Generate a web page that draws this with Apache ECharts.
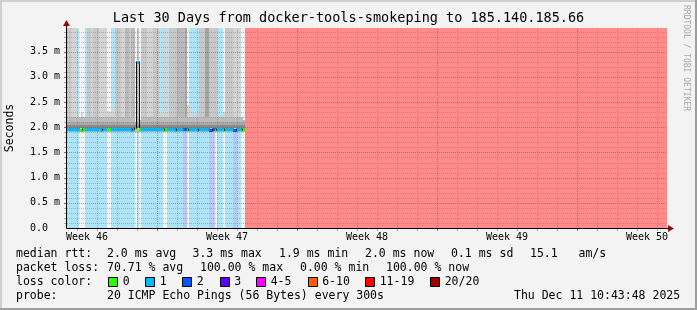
<!DOCTYPE html>
<html><head><meta charset="utf-8">
<script src="https://cdn.jsdelivr.net/npm/echarts@6/dist/echarts.min.js"></script>
<style>html,body{margin:0;padding:0;background:#f3f3f3}#c{width:697px;height:310px}</style>
</head><body><div id="c"></div><script>
// ---------------- data ----------------
const chartTitle = 'Last 30 Days from docker-tools-smokeping to 185.140.185.66';
const rangeHours = 720;          // 30 days
const binHours = 2.4;            // one data bin
const yMax = 3.97;               // ms
// loss count per bin (0..20)
const binLoss = [
 1,1,1,1,1,1,0,0,0,1,
 1,1,1,1,1,1,1,1,1,1,
 0,0,1,1,1,1,1,1,1,1,
 1,1,1,1,0,1,0,1,1,1,
 1,1,1,1,1,1,1,1,0,0,
 1,1,1,1,1,1,1,1,2,2,
 0,1,1,1,1,1,1,1,1,1,
 1,2,2,2,0,1,1,1,0,1,
 1,1,1,2,2,1,1,0,0];
// median rtt per bin (ms)
const binMedian = [
 1.96,1.96,1.96,1.97,1.96,1.96,1.95,1.95,1.96,1.96,
 1.96,1.96,1.97,1.96,1.96,1.96,1.96,1.95,1.96,1.96,
 1.96,1.96,1.96,1.96,1.96,1.97,1.96,1.96,1.96,1.96,
 1.96,1.96,1.95,1.96,1.98,3.30,1.96,1.96,1.96,1.96,
 1.96,1.96,1.97,1.96,1.96,1.96,1.96,1.96,1.95,1.96,
 1.96,1.96,1.96,1.96,1.95,1.96,1.96,1.96,1.96,1.96,
 1.95,1.96,1.96,1.96,1.96,1.95,1.96,1.96,1.96,1.96,
 1.96,1.95,1.95,1.96,1.95,1.96,1.96,1.96,1.95,1.96,
 1.96,1.96,1.96,1.94,1.95,1.96,1.96,1.95,1.97];
// top of smoke (slowest ping) per bin (ms)
const binSmokeTop = [
 4,4,4,4,4,2.25,2.2,2.3,2.2,2.2,
 4,4,4,4,4,4,4,4,4,4,
 2.33,2.3,2.35,2.4,4,4,4,4,4,4,
 4,4,4,4,2.1,4,2.15,4,4,4,
 4,4,4,4,4,4,2.25,2.3,4,4,
 2.3,4,4,4,4,4,4,4,4,4,
 2.45,2.4,2.3,2.25,2.3,2.2,4,4,4,4,
 4,4,4,4,4,2.2,2.25,2.2,2.3,4,
 4,4,4,4,4,4,4,2.2,2.15];
// smoke density per bin (0 light .. 3 dense)
const binShade = [
 1,1,0,0,0,0,0,0,0,0,
 1,1,0,1,1,1,0,0,0,0,
 0,0,0,0,1,1,1,0,0,2,
 2,1,2,2,0,1,0,1,1,1,
 0,0,0,1,1,1,0,0,0,0,
 0,1,1,1,1,2,2,2,2,3,
 0,0,0,0,0,0,1,1,1,3,
 3,1,1,1,1,0,0,0,0,1,
 1,1,1,0,0,0,0,0,0];
const outage = [213.6, 720, 20];           // start h, end h, loss 20/20
const weekLabels = ['Week 46','Week 47','Week 48','Week 49','Week 50'];
const weekLabelHours = [24, 192, 360, 528, 696];
const weekStartHours = [108, 276, 444, 612];
const yTickValues = [0, 0.5, 1.0, 1.5, 2.0, 2.5, 3.0, 3.5];
const yTickLabels = ['0.0','0.5 m','1.0 m','1.5 m','2.0 m','2.5 m','3.0 m','3.5 m'];
const legendRtt = ['median rtt:','2.0 ms avg','3.3 ms max','1.9 ms min','2.0 ms now','0.1 ms sd','15.1   am/s'];
const legendLoss = ['packet loss:','70.71 % avg','100.00 % max','0.00 % min','100.00 % now'];
const lossColorTitle = 'loss color:';
const lossClassLabels = ['0','1','2','3','4-5','6-10','11-19','20/20'];
const lossClassColors = ['#26ff00','#00b8ff','#0059ff','#5e00ff','#ff00ff','#ff5e00','#ff0000','#a10000'];
const legendProbe = ['probe:','20 ICMP Echo Pings (56 Bytes) every 300s','Thu Dec 11 10:43:48 2025'];
const watermark = 'RRDTOOL / TOBI OETIKER';

// ---------------- styles ----------------
const MONO = '"DejaVu Sans Mono", monospace';
const shadeColors = ['#d4d4d4','#c8c8c8','#bababa','#a5a5a5'];
function lossClass(l){ if(l<=0) return 0; if(l===1) return 1; if(l===2) return 2; if(l===3) return 3; if(l<=5) return 4; if(l<=10) return 5; if(l<=19) return 6; return 7; }
const bgColors = [null,'#aee3f8','#b8c9f6','#d0b0f8','#f8b0f8','#ffb890','#ff8a8a','#ff8a8a'];

// ---------------- tables built from data ----------------
const bins = binLoss.map((l,i)=>[i*binHours,(i+1)*binHours,l,binMedian[i],binSmokeTop[i],binShade[i],
  i+1<binMedian.length ? binMedian[i+1] : binMedian[i], i>0 ? binMedian[i-1] : binMedian[i]]);
const bgData = bins.map(b=>[b[0],b[1],b[2]]).concat([outage]);
const gridData = [];
for(let h=12; h<rangeHours; h+=24){ gridData.push([0,h, weekStartHours.some(w=>Math.abs(w-h)<1e-6)?1:0]); }
for(let k=1; k*0.1<yMax; k++){ const v=+(k*0.1).toFixed(1); gridData.push([1,v, Math.abs(v*2-Math.round(v*2))<1e-6?1:0]); }

function rect(api,x0,x1,v0,v1,fill){
  const a=api.coord([x0,v0]), b=api.coord([x1,v1]);
  const X0=Math.round(a[0]), X1=Math.round(b[0]), Y0=Math.round(a[1]), Y1=Math.round(b[1]);
  return {type:'rect',shape:{x:X0,y:Y1,width:X1-X0,height:Y0-Y1},style:{fill:fill}};
}

const option = {
  backgroundColor:'#f3f3f3',
  animation:false,
  title:{text:chartTitle,left:'center',top:11,padding:0,
    textStyle:{fontFamily:MONO,fontSize:13.5,fontWeight:'normal',color:'#000',lineHeight:14}},
  grid:{left:67,top:28,width:600,height:200,containLabel:false,outerBoundsMode:'none'},
  xAxis:{type:'value',min:0,max:rangeHours,interval:24,
    axisLine:{show:false},axisTick:{show:false},splitLine:{show:false},
    axisLabel:{fontFamily:MONO,fontSize:10,color:'#000',margin:4,lineHeight:10,showMinLabel:true,showMaxLabel:true,
      formatter:v=>{const i=weekLabelHours.findIndex(t=>Math.abs(t-v)<1e-6);return i>=0?weekLabels[i]:'';}}},
  yAxis:{type:'value',min:0,max:yMax,interval:0.5,
    name:'Seconds',nameLocation:'middle',nameGap:51,nameRotate:90,
    nameTextStyle:{fontFamily:MONO,fontSize:11.5,color:'#000'},
    axisLine:{show:false},axisTick:{show:false},splitLine:{show:false},
    axisLabel:{fontFamily:MONO,fontSize:10,color:'#000',align:'left',margin:37,
      formatter:v=>{const i=yTickValues.findIndex(t=>Math.abs(t-v)<1e-6);return i>=0?yTickLabels[i]:'';}}},
  series:[
    { // loss background
      type:'custom',z:1,silent:true,data:bgData,
      renderItem:(p,api)=>{const l=api.value(2);const c=bgColors[lossClass(l)];
        if(!c) return {type:'group',children:[]};
        return rect(api,api.value(0),api.value(1),0,yMax,c);}
    },
    { // smoke
      type:'custom',z:2,silent:true,data:bins,
      renderItem:(p,api)=>{
        const x0=api.value(0),x1=api.value(1),top=Math.min(api.value(4),yMax),sh=api.value(5);
        const ch=[rect(api,x0,x1,1.90,top,shadeColors[sh])];
        ch.push(rect(api,x0,x1,2.10,Math.min(2.20,top),'#bcbcbc'));
        ch.push(rect(api,x0,x1,2.04,2.10,'#a9a9a9'));
        ch.push(rect(api,x0,x1,1.99,2.04,'#8a8a8a'));
        ch.push(rect(api,x0,x1,1.90,1.935,'#b0b0b0'));
        return {type:'group',children:ch};
      }
    },
    { // grid
      type:'custom',z:3,silent:true,data:gridData,
      renderItem:(p,api)=>{
        const kind=api.value(0),v=api.value(1),maj=api.value(2);
        const col=maj?'rgba(225,40,40,0.55)':'rgba(120,120,120,0.45)';
        const tcol=maj?'rgba(200,30,30,0.8)':'rgba(120,120,120,0.6)';
        if(kind===0){
          const a=api.coord([v,0]),b=api.coord([v,yMax]);const x=Math.round(a[0])+0.5;
          return {type:'group',children:[
            {type:'line',shape:{x1:x,y1:a[1],x2:x,y2:b[1]},style:{stroke:col,lineWidth:1,lineDash:[1,1]}},
            {type:'line',shape:{x1:x,y1:a[1],x2:x,y2:a[1]+3},style:{stroke:tcol,lineWidth:1}}]};
        } else {
          const a=api.coord([0,v]),b=api.coord([rangeHours,v]);const y=Math.round(a[1])+0.5;
          return {type:'group',children:[
            {type:'line',shape:{x1:a[0],y1:y,x2:b[0],y2:y},style:{stroke:col,lineWidth:1,lineDash:[1,1]}},
            {type:'line',shape:{x1:a[0]-3,y1:y,x2:a[0],y2:y},style:{stroke:tcol,lineWidth:1}}]};
        }
      }
    },
    { // median rtt, coloured by loss
      type:'custom',z:4,silent:true,data:bins,
      renderItem:(p,api)=>{
        const x0=api.value(0),x1=api.value(1),m=api.value(3),l=api.value(2),mn=api.value(6),mp=api.value(7);
        const a=api.coord([x0,m]),b=api.coord([x1,m]);
        const y=Math.round(a[1])+0.5,yn=Math.round(api.coord([x1,mn])[1])+0.5,yp=Math.round(api.coord([x0,mp])[1])+0.5;
        const xs=Math.round(a[0]),xe=Math.round(b[0]);
        const ch=[{type:'line',shape:{x1:xs,y1:y,x2:xe,y2:y},style:{stroke:lossClassColors[lossClass(l)],lineWidth:3}}];
        // step connectors: rise drawn on the outer side of the higher bin
        if(yp>y) ch.push({type:'line',shape:{x1:xs-0.5,y1:y-1,x2:xs-0.5,y2:yp},style:{stroke:'#111',lineWidth:1}});
        if(yn>y) ch.push({type:'line',shape:{x1:xe+0.5,y1:y-1,x2:xe+0.5,y2:yn},style:{stroke:'#111',lineWidth:1}});
        return {type:'group',children:ch};
      }
    },
    { // axes with arrows
      type:'custom',z:5,silent:true,data:[[0]],
      renderItem:(p,api)=>{
        const o=api.coord([0,0]),xr=api.coord([rangeHours,0]),yt=api.coord([0,yMax]);
        const ox=Math.round(o[0])-0.5,oy=Math.round(o[1])+0.5;
        return {type:'group',children:[
          {type:'line',shape:{x1:ox,y1:oy,x2:xr[0]+4,y2:oy},style:{stroke:'#000',lineWidth:1}},
          {type:'line',shape:{x1:ox,y1:oy,x2:ox,y2:yt[1]-3},style:{stroke:'#000',lineWidth:1}},
          {type:'polygon',shape:{points:[[xr[0]+1,oy-3.5],[xr[0]+7,oy],[xr[0]+1,oy+3.5]]},style:{fill:'#8b1010'}},
          {type:'polygon',shape:{points:[[ox-3.5,yt[1]-2],[ox,yt[1]-8],[ox+3.5,yt[1]-2]]},style:{fill:'#8b1010'}}
        ]};
      }
    }
  ],
  graphic:[]
};

// legend / decoration
const G = option.graphic;
function txt(s,x,y,extra){ G.push(Object.assign({type:'text',x:x,y:y,silent:true,
  style:{text:s,fill:'#000',font:'11.5px '+MONO,verticalAlign:'middle',align:'left'}},extra||{})); }
const rowY=[254.5,268,282,296];
const rttX=[16,107,192.5,279,365,451,530];
legendRtt.forEach((s,i)=>txt(s,rttX[i],rowY[0]));
const lossX=[16,107,200,300,386];
legendLoss.forEach((s,i)=>txt(s,lossX[i],rowY[1]));
txt(lossColorTitle,16,rowY[2]);
const boxX=[108,145,182,219.5,256,307.5,365,430];
lossClassLabels.forEach((s,i)=>{
  G.push({type:'rect',silent:true,shape:{x:Math.round(boxX[i])+0.5,y:rowY[2]-4.5,width:9,height:9},style:{fill:lossClassColors[i],stroke:'#000',lineWidth:1}});
  txt(s,boxX[i]+14.7,rowY[2]);
});
const probeX=[16,107,514];
legendProbe.forEach((s,i)=>txt(s,probeX[i],rowY[3]));
G.push({type:'text',x:686,y:5,rotation:-Math.PI/2,silent:true,
  style:{text:watermark,fill:'#a8a8a8',font:'8px '+MONO,verticalAlign:'middle',align:'left'}});
// frame shading
G.push({type:'line',silent:true,shape:{x1:0,y1:1,x2:697,y2:1},style:{stroke:'#cfcfcf',lineWidth:2}});
G.push({type:'line',silent:true,shape:{x1:1,y1:0,x2:1,y2:310},style:{stroke:'#cfcfcf',lineWidth:2}});
G.push({type:'line',silent:true,shape:{x1:0,y1:309,x2:697,y2:309},style:{stroke:'#9e9e9e',lineWidth:2}});
G.push({type:'line',silent:true,shape:{x1:696,y1:0,x2:696,y2:310},style:{stroke:'#9e9e9e',lineWidth:2}});

const chart = echarts.init(document.getElementById('c'),null,{renderer:'canvas',width:697,height:310});
chart.setOption(option);
</script></body></html>
